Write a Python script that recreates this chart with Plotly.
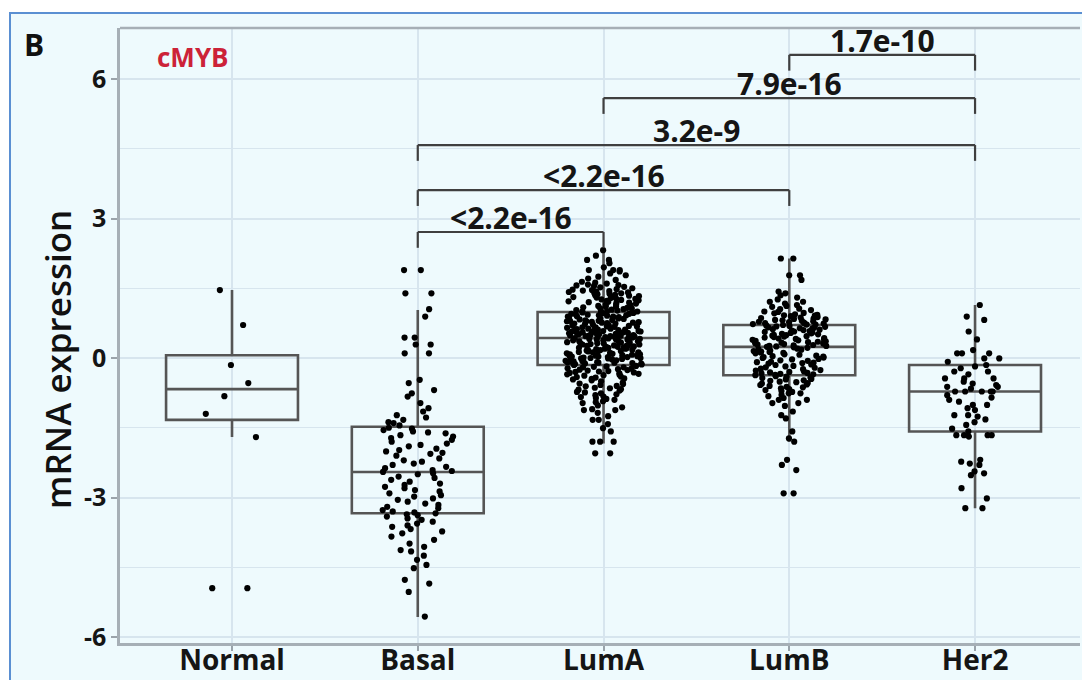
import plotly.graph_objects as go

# ---------------- data ----------------
categories = ["Normal", "Basal", "LumA", "LumB", "Her2"]

q1_vals = [-1.33, -3.34, -0.15, -0.37, -1.58]
median_vals = [-0.67, -2.45, 0.43, 0.24, -0.72]
q3_vals = [0.06, -1.48, 0.99, 0.71, -0.15]
lower_vals = [-1.70, -5.57, -1.84, -1.80, -3.23]
upper_vals = [1.46, 1.03, 2.32, 2.14, 1.14]

normal_pts = [1.46, 0.71, -0.15, -0.54, -0.82, -1.20, -1.70, -4.95, -4.95]

basal_pts = [
    1.89, 1.89, 1.39, 1.39, 1.05, 0.89, 0.44, 0.44, 0.29, 0.29, 0.10, 0.10,
    -0.47, -0.54, -0.69, -0.76, -0.83, -0.97, -1.08, -1.15, -1.23, -1.28,
    -1.33, -1.38, -1.40, -1.45,
    -1.50, -1.52, -1.55, -1.58, -1.60, -1.62, -1.66, -1.69, -1.72, -1.76,
    -1.80, -1.84, -1.87, -1.90, -1.95, -1.98, -2.01, -2.04, -2.06, -2.10,
    -2.16, -2.20, -2.23, -2.27, -2.30, -2.34, -2.37, -2.41, -2.43, -2.45,
    -2.48, -2.50, -2.55, -2.58, -2.62, -2.66, -2.70, -2.73, -2.77, -2.80,
    -2.84, -2.87, -2.91, -2.95, -2.98, -3.02, -3.05, -3.09, -3.13, -3.16,
    -3.20, -3.23, -3.27, -3.30, -3.32, -3.34, -3.36,
    -3.38, -3.41, -3.45, -3.48, -3.52, -3.56, -3.60, -3.63, -3.68, -3.73,
    -3.77, -3.84, -3.91, -3.99, -4.06, -4.13, -4.16, -4.25, -4.34, -4.45,
    -4.52, -4.77, -4.85, -5.03, -5.56,
]

luma_pts = [
    2.32, 2.20, 2.11, 2.11, 2.04, 1.95, 1.89, 1.89, 1.89, 1.86, 1.82, 1.78,
    1.75, 1.71, 1.68, 1.64, 1.62, 1.60,
    1.58, 1.56, 1.55, 1.52, 1.50, 1.48, 1.47, 1.45, 1.44, 1.42, 1.41, 1.40,
    1.38, 1.37, 1.36, 1.35, 1.33, 1.32, 1.31, 1.30,
    1.29, 1.28, 1.27, 1.25, 1.24, 1.22, 1.21, 1.20, 1.18, 1.17, 1.15, 1.14,
    1.12, 1.11, 1.10, 1.08, 1.07, 1.06, 1.05, 1.03, 1.02, 1.01, 1.00, 1.00,
    1.53, 1.46, 1.39, 1.34, 1.26, 1.19, 1.13, 1.09, 1.04, 1.57, 1.43, 1.23,
    0.98, 0.97, 0.95, 0.95, 0.93, 0.92, 0.90, 0.89, 0.88, 0.86, 0.85, 0.85,
    0.83, 0.81, 0.80, 0.79, 0.77, 0.76, 0.76, 0.74, 0.73, 0.71, 0.70, 0.69,
    0.68, 0.66, 0.65, 0.64, 0.63, 0.62, 0.61, 0.60, 0.58, 0.57, 0.56, 0.55,
    0.55, 0.54, 0.53, 0.52, 0.51, 0.50, 0.49, 0.48, 0.48, 0.47, 0.46, 0.46,
    0.45, 0.44, 0.44, 0.43, 0.43, 0.91, 0.87, 0.78, 0.72, 0.67, 0.59, 0.53,
    0.47, 0.45, 0.96, 0.94, 0.84, 0.82, 0.75, 0.70, 0.63, 0.57, 0.51, 0.49,
    0.99, 0.89, 0.80, 0.74, 0.66, 0.61, 0.54, 0.50, 0.92, 0.79, 0.68, 0.58,
    0.42, 0.41, 0.40, 0.39, 0.38, 0.37, 0.36, 0.35, 0.33, 0.32, 0.31, 0.30,
    0.29, 0.28, 0.26, 0.25, 0.24, 0.23, 0.22, 0.21, 0.20, 0.18, 0.17, 0.16,
    0.15, 0.14, 0.12, 0.11, 0.10, 0.09, 0.08, 0.07, 0.05, 0.04, 0.03, 0.02,
    0.01, 0.00, -0.01, -0.02, -0.04, -0.05, -0.06, -0.07, -0.08, -0.09,
    -0.10, -0.11, -0.12, -0.13, -0.14, -0.15, 0.38, 0.34, 0.27, 0.19, 0.13,
    0.06, 0.02, -0.03, -0.07, -0.12, 0.40, 0.36, 0.31, 0.26, 0.22, 0.17,
    0.12, 0.08, 0.03, -0.01, -0.05, -0.10, 0.33, 0.24, 0.15, 0.05, -0.09,
    0.41, 0.29, 0.20, 0.10, 0.00,
    -0.17, -0.19, -0.20, -0.22, -0.24, -0.25, -0.27, -0.29, -0.30, -0.32,
    -0.33, -0.35, -0.37, -0.38, -0.40, -0.42, -0.44, -0.46, -0.48, -0.50,
    -0.20, -0.26, -0.31, -0.36, -0.41, -0.18, -0.23, -0.28, -0.34, -0.45,
    -0.53, -0.55, -0.58, -0.61, -0.64, -0.67, -0.70, -0.73, -0.76, -0.80,
    -0.83, -0.86, -0.90, -0.93, -0.97, -0.60, -0.68, -0.78, -0.88, -0.95,
    -0.56, -0.65, -0.74, -0.84,
    -1.02, -1.06, -1.10, -1.12, -1.12, -1.18, -1.25, -1.33, -1.33, -1.42,
    -1.51, -1.58, -1.80, -1.80, -1.80, -2.05, -2.05,
]

lumb_pts = [
    2.14, 2.14, 1.78, 1.78, 1.68, 1.43, 1.39, 1.35, 1.21, 1.21, 1.10, 0.96,
    1.30, 1.26, 1.17, 1.14, 1.06, 1.03, 1.00, 0.99, 0.97, 0.94, 0.93, 0.91,
    0.90, 0.88, 0.87, 0.86, 0.85, 0.84, 0.83, 0.82, 0.81, 0.80, 0.79, 0.78,
    0.77, 0.76, 0.75, 0.74, 0.74, 0.73, 0.72, 0.72, 0.71, 1.12, 1.05, 0.92,
    0.70, 0.69, 0.68, 0.67, 0.66, 0.65, 0.64, 0.63, 0.62, 0.61, 0.60, 0.59,
    0.58, 0.56, 0.55, 0.54, 0.53, 0.52, 0.50, 0.49, 0.48, 0.47, 0.46, 0.45,
    0.44, 0.43, 0.42, 0.41, 0.40, 0.38, 0.37, 0.36, 0.35, 0.34, 0.33, 0.32,
    0.31, 0.30, 0.29, 0.28, 0.27, 0.26, 0.26, 0.25, 0.24, 0.57, 0.51, 0.39,
    0.23, 0.22, 0.20, 0.19, 0.18, 0.16, 0.15, 0.14, 0.12, 0.11, 0.10, 0.08,
    0.07, 0.05, 0.04, 0.03, 0.01, 0.00, -0.02, -0.03, -0.05, -0.06, -0.08,
    -0.09, -0.11, -0.12, -0.14, -0.15, -0.17, -0.18, -0.20, -0.21, -0.23,
    -0.24, -0.26, -0.27, -0.29, -0.30, -0.31, -0.32, -0.33, -0.34, -0.35,
    -0.36, -0.37, 0.13, 0.02, -0.10,
    -0.39, -0.40, -0.42, -0.43, -0.45, -0.46, -0.48, -0.49, -0.51, -0.52,
    -0.54, -0.55, -0.57, -0.58, -0.60, -0.62, -0.63, -0.65, -0.67, -0.69,
    -0.71, -0.73, -0.76, -0.76, -0.79, -0.82, -0.86, -0.90, -0.90, -0.97,
    -0.97, -1.03, -1.15, -1.23, -1.30, -1.58, -1.73, -1.80, -2.19, -2.30,
    -2.41, -2.91, -2.91,
]

her2_pts = [
    1.14, 0.89, 0.82, 0.57, 0.40, 0.17, 0.10, 0.10, 0.10, -0.01, -0.01,
    -0.08, -0.15, -0.18, -0.22, -0.29, -0.29, -0.35, -0.44, -0.44, -0.44,
    -0.51, -0.55, -0.58, -0.62, -0.62, -0.66, -0.72, -0.72, -0.72, -0.72,
    -0.72, -0.80, -0.85, -0.90, -0.94, -1.01, -1.01, -1.08, -1.12, -1.23,
    -1.23, -1.26, -1.32, -1.38, -1.44, -1.52, -1.58, -1.66, -1.66, -1.66,
    -1.66, -1.69, -2.19, -2.23, -2.27, -2.30, -2.44, -2.48, -2.52, -2.80,
    -3.02, -3.23, -3.23,
]

group_points = [normal_pts, basal_pts, luma_pts, lumb_pts, her2_pts]

y_tick_vals = [-6, -3, 0, 3, 6]
y_tick_text = ["-6", "-3", "0", "3", "6"]

cmp_left = ["LumB", "LumA", "Basal", "Basal", "Basal"]
cmp_right = ["Her2", "Her2", "Her2", "LumB", "LumA"]
cmp_labels = ["1.7e-10", "7.9e-16", "3.2e-9", "<2.2e-16", "<2.2e-16"]

panel_title = "cMYB"
panel_letter = "B"
y_title = "mRNA expression"

# ---------------- layout constants ----------------
W, H = 1082, 680
ML, MR, MT, MB = 120, 2, 28, 37
cmp_levels = [6.52, 5.59, 4.58, 3.61, 2.71]
tip = 0.34
BG = "#eefafd"
GRID = "#d7e5ee"
BOXLINE = "#555555"
AXLINE = "#a6afb6"
FONT = "Open Sans"


def px_x(px):
    return (px - ML) / (W - ML - MR)


def px_y(py):
    return (H - MB - py) / (H - MT - MB)


fig = go.Figure()

# boxes (precomputed stats)
fig.add_trace(go.Box(
    x=categories, q1=q1_vals, median=median_vals, q3=q3_vals,
    lowerfence=lower_vals, upperfence=upper_vals,
    boxpoints=False, width=0.71, whiskerwidth=0,
    fillcolor="rgba(0,0,0,0)", line=dict(color=BOXLINE, width=2.6),
    showlegend=False, hoverinfo="skip",
))

# jittered points
for cat, pts in zip(categories, group_points):
    fig.add_trace(go.Box(
        x=[cat] * len(pts), y=pts, boxpoints="all", jitter=0.58, pointpos=0,
        width=0.71, fillcolor="rgba(0,0,0,0)",
        line=dict(color="rgba(0,0,0,0)", width=0),
        marker=dict(color="#000000", size=6.2, line=dict(width=0)),
        showlegend=False, hoverinfo="y",
    ))

shapes = []
annotations = []

# outer frame + background
shapes.append(dict(type="rect", xref="paper", yref="paper",
                   x0=px_x(10), x1=px_x(W + 20), y0=px_y(H + 20), y1=px_y(13),
                   fillcolor=BG, line=dict(color="#5a8fd2", width=2),
                   layer="below"))
# panel top border
shapes.append(dict(type="line", xref="paper", yref="paper", x0=0, x1=1, y0=1, y1=1,
                   line=dict(color=AXLINE, width=2.5)))

# significance brackets
for a, b, lab, lev in zip(cmp_left, cmp_right, cmp_labels, cmp_levels):
    i0, i1 = categories.index(a), categories.index(b)
    line = dict(color="#3f3f3f", width=2.2)
    shapes.append(dict(type="line", xref="x", yref="y", x0=i0, x1=i1, y0=lev, y1=lev, line=line))
    shapes.append(dict(type="line", xref="x", yref="y", x0=i0, x1=i0, y0=lev, y1=lev - tip, line=line))
    shapes.append(dict(type="line", xref="x", yref="y", x0=i1, x1=i1, y0=lev, y1=lev - tip, line=line))
    annotations.append(dict(x=(i0 + i1) / 2, y=lev, xref="x", yref="y", text=lab,
                            showarrow=False, xanchor="center", yanchor="bottom", yshift=-8,
                            font=dict(family=FONT, size=30, color="#151515", weight="bold")))

annotations.append(dict(x=px_x(34), y=px_y(45), xref="paper", yref="paper", text=panel_letter,
                        showarrow=False, xanchor="center", yanchor="middle",
                        font=dict(family=FONT, size=30, color="#111111", weight="bold")))
annotations.append(dict(x=px_x(193), y=px_y(57), xref="paper", yref="paper", text=panel_title,
                        showarrow=False, xanchor="center", yanchor="middle",
                        font=dict(family=FONT, size=26, color="#cc2238", weight="bold")))
annotations.append(dict(x=px_x(57), y=px_y(360), xref="paper", yref="paper", text=y_title,
                        textangle=-90, showarrow=False, xanchor="center", yanchor="middle",
                        font=dict(family=FONT, size=35, color="#111111", weight=600)))

fig.update_layout(
    width=W, height=H,
    margin=dict(l=ML, r=MR, t=MT, b=MB, pad=0),
    paper_bgcolor="#ffffff", plot_bgcolor=BG,
    boxmode="overlay",
    showlegend=False,
    shapes=shapes, annotations=annotations,
    template="none",
    font=dict(family=FONT),
)

fig.update_xaxes(
    type="category", categoryorder="array", categoryarray=categories,
    range=[-0.603, 4.565], autorange=False,
    showgrid=True, gridcolor=GRID, gridwidth=1.5,
    showline=True, linecolor=AXLINE, linewidth=2.5, mirror=False,
    ticks="outside", ticklen=5, tickcolor="#9aa3aa", tickwidth=1.5,
    ticklabelstandoff=-14,
    tickfont=dict(family=FONT, size=28, color="#151515", weight="bold"),
    automargin=False, zeroline=False,
)
fig.update_yaxes(
    range=[-6.129, 7.097], autorange=False,
    tickvals=y_tick_vals, ticktext=y_tick_text,
    showgrid=True, gridcolor=GRID, gridwidth=1.5,
    minor=dict(dtick=1.5, tick0=0, showgrid=True, gridcolor=GRID, gridwidth=1.2, ticks=""),
    showline=True, linecolor=AXLINE, linewidth=2.5,
    ticks="outside", ticklen=6, tickcolor="#9aa3aa", tickwidth=1.5,
    tickfont=dict(family=FONT, size=25, color="#151515", weight="bold"),
    automargin=False, zeroline=False,
)

fig.write_html("out.html")
